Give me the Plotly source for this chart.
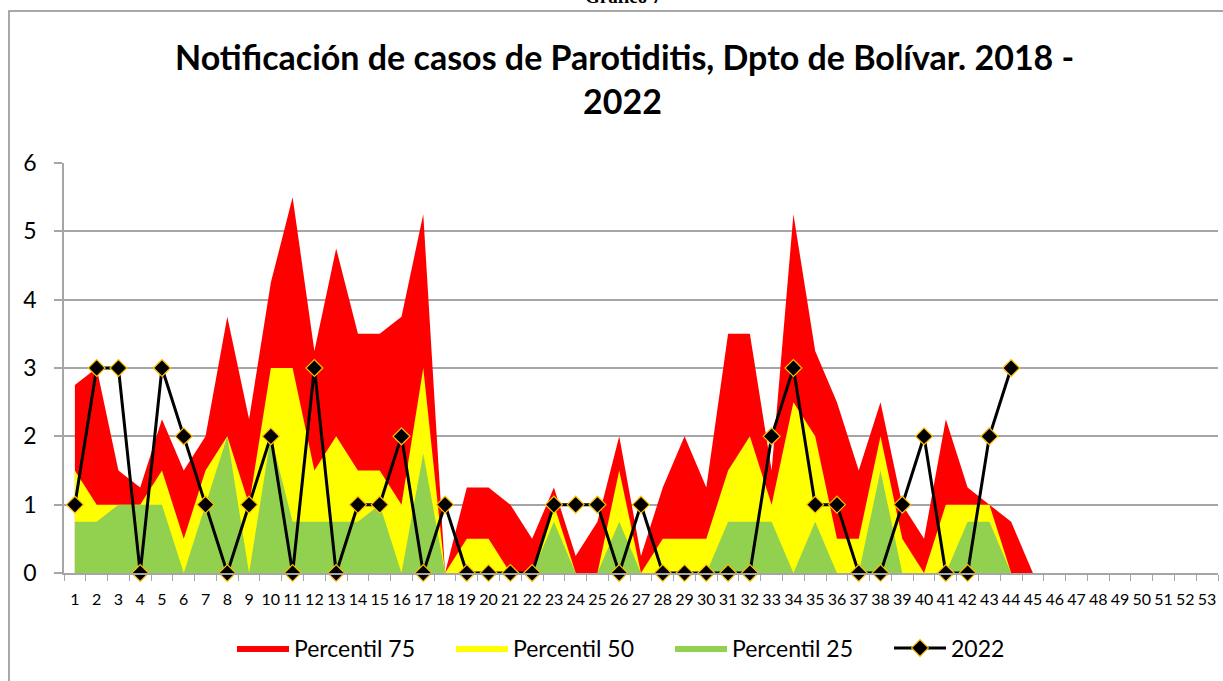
import plotly.graph_objects as go

weeks = list(range(1, 54))
week_labels = [str(w) for w in weeks]

p75 = [2.75, 3.0, 1.5, 1.25, 2.25, 1.5, 2.0, 3.75, 2.25, 4.25,
       5.5, 3.25, 4.75, 3.5, 3.5, 3.75, 5.25, 0, 1.25, 1.25,
       1.0, 0.5, 1.25, 0.25, 0.75, 2.0, 0.25, 1.25, 2.0, 1.25,
       3.5, 3.5, 1.5, 5.25, 3.25, 2.5, 1.5, 2.5, 1.0, 0.5,
       2.25, 1.25, 1.0, 0.75, 0]
p50 = [1.5, 1.0, 1.0, 1.0, 1.5, 0.5, 1.5, 2.0, 1.0, 3.0,
       3.0, 1.5, 2.0, 1.5, 1.5, 1.0, 3.0, 0, 0.5, 0.5,
       0, 0, 1.0, 0, 0, 1.5, 0, 0.5, 0.5, 0.5,
       1.5, 2.0, 1.0, 2.5, 2.0, 0.5, 0.5, 2.0, 0.5, 0,
       1.0, 1.0, 1.0, 0]
p25 = [0.75, 0.75, 1.0, 1.0, 1.0, 0, 1.0, 2.0, 0, 2.0,
       0.75, 0.75, 0.75, 0.75, 1.0, 0, 1.75, 0, 0, 0,
       0, 0, 0.75, 0, 0, 0.75, 0, 0, 0, 0,
       0.75, 0.75, 0.75, 0, 0.75, 0, 0, 1.5, 0, 0,
       0, 0.75, 0.75, 0]
y2022 = [1, 3, 3, 0, 3, 2, 1, 0, 1, 2,
         0, 3, 0, 1, 1, 2, 0, 1, 0, 0,
         0, 0, 1, 1, 1, 0, 1, 0, 0, 0,
         0, 0, 2, 3, 1, 1, 0, 0, 1, 2,
         0, 0, 2, 3]

FONT = "Lato, 'Open Sans', sans-serif"
GRID = "#A6A6A6"

fig = go.Figure()
fig.add_trace(go.Scatter(x=weeks[:len(p75)], y=p75, name="Percentil 75", mode="lines",
                         line=dict(width=0, color="#FF0000"), fill="tozeroy",
                         fillcolor="#FF0000"))
fig.add_trace(go.Scatter(x=weeks[:len(p50)], y=p50, name="Percentil 50", mode="lines",
                         line=dict(width=0, color="#FFFF00"), fill="tozeroy",
                         fillcolor="#FFFF00"))
fig.add_trace(go.Scatter(x=weeks[:len(p25)], y=p25, name="Percentil 25", mode="lines",
                         line=dict(width=0, color="#92D050"), fill="tozeroy",
                         fillcolor="#92D050"))
fig.add_trace(go.Scatter(x=weeks[:len(y2022)], y=y2022, name="2022", mode="lines+markers",
                         line=dict(width=3, color="black"),
                         marker=dict(symbol="diamond", size=13, color="black",
                                     line=dict(color="#FFC000", width=1.2)),
                         cliponaxis=False))

L, R, T, B = 64, 5, 163, 108
W, H = 1223, 681
pw = W - L - R
ph = H - T - B


def px(xp):
    return (xp - L) / pw


def py(yp):
    return (H - B - yp) / ph


fig.update_layout(
    width=W, height=H,
    margin=dict(l=L, r=R, t=T, b=B),
    paper_bgcolor="white", plot_bgcolor="white",
    font=dict(family=FONT, color="black"),
    showlegend=True,
    legend=dict(orientation="h", x=px(232), xanchor="left", y=py(648), yanchor="middle",
                font=dict(size=23, family=FONT), traceorder="normal",
                itemwidth=52, entrywidth=152, entrywidthmode="pixels"),
    xaxis=dict(range=[0.5, 53.5], tickmode="array", tickvals=weeks, ticktext=week_labels,
               ticks="", showgrid=False, zeroline=False, tickangle=0,
               showline=True, linecolor=GRID, linewidth=1.5,
               tickfont=dict(size=16, family=FONT), ticklabelstandoff=11,
               minor=dict(tick0=0.5, dtick=1, ticks="outside", ticklen=6,
                          tickcolor=GRID, tickwidth=1, showgrid=False)),
    yaxis=dict(range=[0, 6], tickmode="array", tickvals=[0, 1, 2, 3, 4, 5, 6],
               ticks="outside", ticklen=8, tickcolor=GRID, tickwidth=1.5,
               showgrid=True, gridcolor=GRID, gridwidth=1.5, zeroline=False,
               showline=True, linecolor=GRID, linewidth=1.5,
               tickfont=dict(size=23, family=FONT), ticklabelstandoff=13),
    annotations=[
        dict(text="<b>Notificación de casos de Parotiditis, Dpto de Bolívar. 2018 -</b>",
             x=px(624), y=py(56), xref="paper", yref="paper", showarrow=False,
             xanchor="center", yanchor="middle", font=dict(size=34, family=FONT)),
        dict(text="<b>2022</b>",
             x=px(622), y=py(100), xref="paper", yref="paper", showarrow=False,
             xanchor="center", yanchor="middle", font=dict(size=34, family=FONT)),
        dict(text="<b>Gráfico 7</b>",
             x=px(623), y=py(9), xref="paper", yref="paper", showarrow=False,
             xanchor="center", yanchor="bottom",
             font=dict(size=19, family="'Liberation Serif', 'DejaVu Serif', serif")),
    ],
    shapes=[
        dict(type="rect", xref="paper", yref="paper", x0=px(9), x1=px(1240),
             y0=py(700), y1=py(11), line=dict(color="#8C8C8C", width=1.5),
             fillcolor="rgba(0,0,0,0)", layer="below"),
    ],
)

fig.write_html("out.html", config={"displayModeBar": False},
               post_script="document.body.style.margin='0';document.body.style.overflow='hidden';")
